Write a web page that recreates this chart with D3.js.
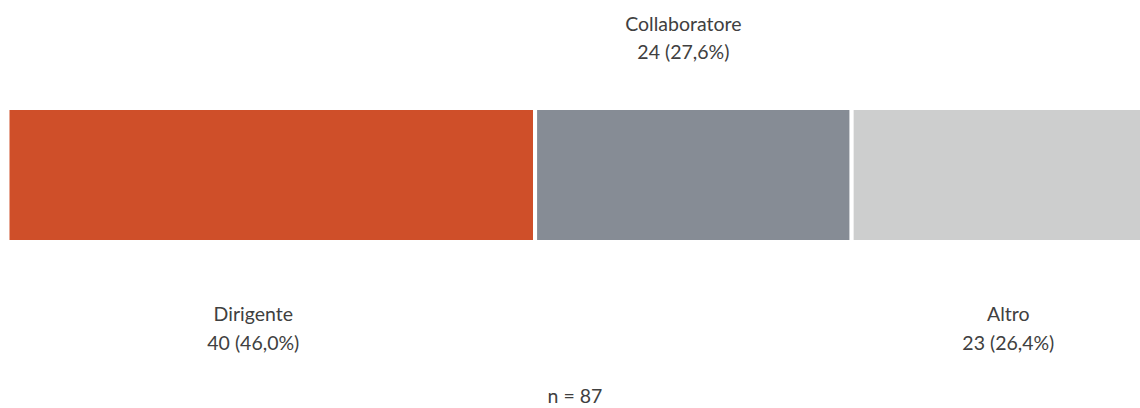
<!DOCTYPE html>
<html>
<head>
<meta charset="utf-8">
<script src="https://cdn.jsdelivr.net/npm/d3@7"></script>
<style>
  html, body { margin: 0; padding: 0; background: #fff; }
  svg { display: block; }
  text { font-family: Lato, "Open Sans", sans-serif; fill: #404040; }
</style>
</head>
<body>
<svg id="chart" width="1140" height="408"></svg>
<script>
// Ruolo dei rispondenti
const categories = ["Dirigente", "Collaboratore", "Altro"];
const counts = [40, 24, 23];
const percentLabels = ["46,0%", "27,6%", "26,4%"];
const colors = ["#CF4F29", "#868C95", "#CDCECE"];
const total = 87;

const W = 1140, H = 408;
const svg = d3.select("#chart");

// stacked single bar; the last segment runs past the right edge
const x = d3.scaleLinear().domain([0, total]).range([7.5, 1155]);
const barTop = 108, barH = 134;
const fontSize = 19.5;

const stacked = [];
let acc = 0;
counts.forEach((v, i) => {
  stacked.push({ cat: categories[i], value: v, pct: percentLabels[i], color: colors[i], x0: acc, x1: acc + v });
  acc += v;
});

svg.append("g")
  .selectAll("rect")
  .data(stacked)
  .join("rect")
  .attr("x", d => x(d.x0))
  .attr("y", barTop)
  .attr("width", d => x(d.x1) - x(d.x0))
  .attr("height", barH)
  .attr("fill", d => d.color)
  .attr("stroke", "#fff")
  .attr("stroke-width", 4);

// label placement: above the bar for the middle segment, below for the others
const labelPlace = [
  { dx: -18, y1: 321, y2: 349.5 },
  { dx: -10, y1: 31, y2: 59 },
  { dx: 5, y1: 321, y2: 349.5 }
];

const labels = svg.append("g")
  .selectAll("g")
  .data(stacked)
  .join("g")
  .attr("transform", (d, i) => `translate(${x((d.x0 + d.x1) / 2) + labelPlace[i].dx},0)`);

labels.append("text")
  .attr("text-anchor", "middle")
  .attr("y", (d, i) => labelPlace[i].y1)
  .attr("font-size", fontSize)
  .text(d => d.cat);

labels.append("text")
  .attr("text-anchor", "middle")
  .attr("y", (d, i) => labelPlace[i].y2)
  .attr("font-size", fontSize)
  .text(d => `${d.value} (${d.pct})`);

svg.append("text")
  .attr("x", 575)
  .attr("y", 403)
  .attr("text-anchor", "middle")
  .attr("font-size", fontSize)
  .text(`n = ${total}`);
</script>
</body>
</html>
